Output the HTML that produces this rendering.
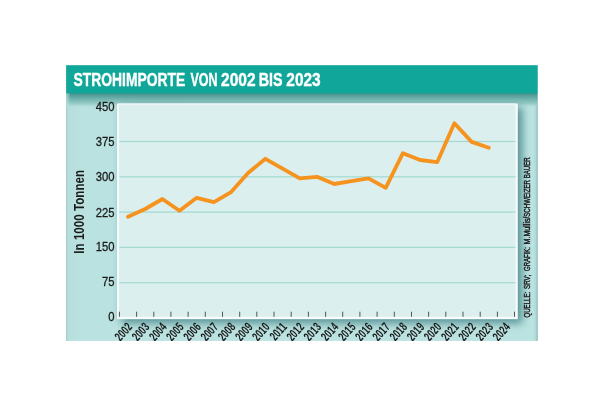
<!DOCTYPE html>
<html><head><meta charset="utf-8"><title>Strohimporte</title>
<style>
html,body{margin:0;padding:0;background:#fff;}
body{width:606px;height:402px;overflow:hidden;font-family:"Liberation Sans",sans-serif;}
svg{display:block;will-change:transform;}
text{font-family:"Liberation Sans",sans-serif;}
</style></head><body>
<svg width="606" height="402" viewBox="0 0 606 402">
<defs>
<linearGradient id="gTitle" x1="0" y1="0" x2="0" y2="1"><stop offset="0" stop-color="#3e8f8c" stop-opacity="1"/><stop offset="0.36" stop-color="#64aaa5" stop-opacity="0.92"/><stop offset="0.75" stop-color="#8fc6c0" stop-opacity="0.8"/><stop offset="1" stop-color="#b0dad6" stop-opacity="0"/></linearGradient>
<linearGradient id="gRight" x1="0" y1="0" x2="1" y2="0"><stop offset="0" stop-color="#6fa9aa" stop-opacity="0.9"/><stop offset="0.5" stop-color="#8fc2c2" stop-opacity="0.45"/><stop offset="1" stop-color="#b7dfdd" stop-opacity="0"/></linearGradient>
<linearGradient id="gBottom" x1="0" y1="0" x2="0" y2="1"><stop offset="0" stop-color="#6fa9aa" stop-opacity="0.9"/><stop offset="0.5" stop-color="#8fc2c2" stop-opacity="0.45"/><stop offset="1" stop-color="#b7dfdd" stop-opacity="0"/></linearGradient>
<linearGradient id="gEdgeR" x1="0" y1="0" x2="1" y2="0"><stop offset="0" stop-color="#8fc0c0" stop-opacity="0"/><stop offset="1" stop-color="#8fc0c0" stop-opacity="0.8"/></linearGradient>
<linearGradient id="gBg" x1="0" y1="0" x2="1" y2="0"><stop offset="0" stop-color="#b5dedc"/><stop offset="0.04" stop-color="#bae2e0"/><stop offset="1" stop-color="#bbe3e1"/></linearGradient>
<filter id="blur" x="-10%" y="-10%" width="120%" height="120%"><feGaussianBlur stdDeviation="4.5"/></filter>
<linearGradient id="gSoftL" x1="0" y1="0" x2="1" y2="0"><stop offset="0" stop-color="#b8e0de" stop-opacity="0.85"/><stop offset="1" stop-color="#b8e0de" stop-opacity="0"/></linearGradient>
<clipPath id="cBox"><rect x="66.2" y="65.2" width="471.5" height="275.7"/></clipPath>
</defs>
<rect x="66.2" y="65.2" width="471.5" height="275.7" fill="url(#gBg)"/>
<g clip-path="url(#cBox)">
<rect x="66.2" y="65" width="1" height="276" fill="#9cc4c4"/>
<rect x="536.7" y="93" width="1" height="248" fill="#86b3b3"/>
<rect x="533" y="93" width="4.5" height="248" fill="url(#gEdgeR)" opacity="0.6"/>
<rect x="66" y="93" width="471.5" height="14.5" fill="url(#gTitle)"/>
<rect x="121.3" y="107" width="401" height="216.3" fill="#569294" filter="url(#blur)"/>
<rect x="66" y="93" width="4.5" height="14" fill="url(#gSoftL)"/>
<rect x="66" y="65" width="472" height="28.3" fill="#10a79a"/>

<rect x="117" y="103.5" width="400.8" height="215.7" fill="#f6fbfb"/>
<rect x="119" y="103.5" width="396.6" height="1.8" fill="#e9f5f4"/>
<rect x="119" y="105.2" width="396.5" height="211.6" fill="#dbefee"/>
<rect x="119.5" y="140.9" width="396" height="1.2" fill="#a2dad1"/>
<rect x="119.5" y="176.2" width="396" height="1.2" fill="#a2dad1"/>
<rect x="119.5" y="211.5" width="396" height="1.2" fill="#a2dad1"/>
<rect x="119.5" y="246.8" width="396" height="1.2" fill="#a2dad1"/>
<rect x="119.5" y="282.1" width="396" height="1.2" fill="#a2dad1"/>
<rect x="118.9" y="311.7" width="1" height="5.1" fill="#555"/>
<rect x="136.1" y="311.7" width="1" height="5.1" fill="#555"/>
<rect x="153.3" y="311.7" width="1" height="5.1" fill="#555"/>
<rect x="170.4" y="311.7" width="1" height="5.1" fill="#555"/>
<rect x="187.6" y="311.7" width="1" height="5.1" fill="#555"/>
<rect x="204.8" y="311.7" width="1" height="5.1" fill="#555"/>
<rect x="222.0" y="311.7" width="1" height="5.1" fill="#555"/>
<rect x="239.2" y="311.7" width="1" height="5.1" fill="#555"/>
<rect x="256.3" y="311.7" width="1" height="5.1" fill="#555"/>
<rect x="273.5" y="311.7" width="1" height="5.1" fill="#555"/>
<rect x="290.7" y="311.7" width="1" height="5.1" fill="#555"/>
<rect x="307.9" y="311.7" width="1" height="5.1" fill="#555"/>
<rect x="325.1" y="311.7" width="1" height="5.1" fill="#555"/>
<rect x="342.2" y="311.7" width="1" height="5.1" fill="#555"/>
<rect x="359.4" y="311.7" width="1" height="5.1" fill="#555"/>
<rect x="376.6" y="311.7" width="1" height="5.1" fill="#555"/>
<rect x="393.8" y="311.7" width="1" height="5.1" fill="#555"/>
<rect x="411.0" y="311.7" width="1" height="5.1" fill="#555"/>
<rect x="428.1" y="311.7" width="1" height="5.1" fill="#555"/>
<rect x="445.3" y="311.7" width="1" height="5.1" fill="#555"/>
<rect x="462.5" y="311.7" width="1" height="5.1" fill="#555"/>
<rect x="479.7" y="311.7" width="1" height="5.1" fill="#555"/>
<rect x="496.9" y="311.7" width="1" height="5.1" fill="#555"/>
<rect x="514.0" y="311.7" width="1" height="5.1" fill="#555"/>
<polyline points="128.0,216.8 145.2,209.0 162.4,199.0 179.5,210.7 196.7,197.8 213.9,202.1 231.1,192.1 248.3,172.8 265.4,158.8 282.6,168.7 299.8,178.4 317.0,176.8 334.2,184.0 351.3,181.2 368.5,178.3 385.7,187.9 402.9,153.2 420.1,160.0 437.2,162.2 454.4,123.2 471.6,141.9 488.8,147.7" fill="none" stroke="#f6921e" stroke-width="3.8" stroke-linejoin="round" stroke-linecap="round"/>
<g font-size="18.4" font-weight="bold" fill="#fff" stroke="#fff" stroke-width="0.4">
<text x="73.6" y="86.3" textLength="111.6" lengthAdjust="spacingAndGlyphs">STROHIMPORTE</text>
<text x="190.4" y="86.3" textLength="27.0" lengthAdjust="spacingAndGlyphs">VON</text>
<text x="221.0" y="86.3" textLength="34.6" lengthAdjust="spacingAndGlyphs">2002</text>
<text x="258.8" y="86.3" textLength="23.8" lengthAdjust="spacingAndGlyphs">BIS</text>
<text x="286.3" y="86.3" textLength="34.4" lengthAdjust="spacingAndGlyphs">2023</text>
</g>
<text x="0" y="0" transform="translate(114.6,111) scale(0.86,1)" font-size="13.1" text-anchor="end" fill="#1a1a1a" stroke="#1a1a1a" stroke-width="0.3">450</text>
<text x="0" y="0" transform="translate(114.6,146) scale(0.86,1)" font-size="13.1" text-anchor="end" fill="#1a1a1a" stroke="#1a1a1a" stroke-width="0.3">375</text>
<text x="0" y="0" transform="translate(114.6,181) scale(0.86,1)" font-size="13.1" text-anchor="end" fill="#1a1a1a" stroke="#1a1a1a" stroke-width="0.3">300</text>
<text x="0" y="0" transform="translate(114.6,217) scale(0.86,1)" font-size="13.1" text-anchor="end" fill="#1a1a1a" stroke="#1a1a1a" stroke-width="0.3">225</text>
<text x="0" y="0" transform="translate(114.6,251) scale(0.86,1)" font-size="13.1" text-anchor="end" fill="#1a1a1a" stroke="#1a1a1a" stroke-width="0.3">150</text>
<text x="0" y="0" transform="translate(114.6,286) scale(0.86,1)" font-size="13.1" text-anchor="end" fill="#1a1a1a" stroke="#1a1a1a" stroke-width="0.3">75</text>
<text x="0" y="0" transform="translate(114.6,321) scale(0.86,1)" font-size="13.1" text-anchor="end" fill="#1a1a1a" stroke="#1a1a1a" stroke-width="0.3">0</text>
<text x="0" y="0" transform="translate(83.8,211.8) rotate(-90) scale(0.83,1)" font-size="14" font-weight="bold" text-anchor="middle" fill="#1a1a1a">In 1000 Tonnen</text>
<text x="0" y="0" transform="translate(133.0,327.6) rotate(-48) scale(0.665,1)" font-size="12.8" font-weight="bold" text-anchor="end" fill="#1a1a1a">2002</text>
<text x="0" y="0" transform="translate(150.2,327.6) rotate(-48) scale(0.665,1)" font-size="12.8" font-weight="bold" text-anchor="end" fill="#1a1a1a">2003</text>
<text x="0" y="0" transform="translate(167.4,327.6) rotate(-48) scale(0.665,1)" font-size="12.8" font-weight="bold" text-anchor="end" fill="#1a1a1a">2004</text>
<text x="0" y="0" transform="translate(184.5,327.6) rotate(-48) scale(0.665,1)" font-size="12.8" font-weight="bold" text-anchor="end" fill="#1a1a1a">2005</text>
<text x="0" y="0" transform="translate(201.7,327.6) rotate(-48) scale(0.665,1)" font-size="12.8" font-weight="bold" text-anchor="end" fill="#1a1a1a">2006</text>
<text x="0" y="0" transform="translate(218.9,327.6) rotate(-48) scale(0.665,1)" font-size="12.8" font-weight="bold" text-anchor="end" fill="#1a1a1a">2007</text>
<text x="0" y="0" transform="translate(236.1,327.6) rotate(-48) scale(0.665,1)" font-size="12.8" font-weight="bold" text-anchor="end" fill="#1a1a1a">2008</text>
<text x="0" y="0" transform="translate(253.3,327.6) rotate(-48) scale(0.665,1)" font-size="12.8" font-weight="bold" text-anchor="end" fill="#1a1a1a">2009</text>
<text x="0" y="0" transform="translate(270.4,327.6) rotate(-48) scale(0.665,1)" font-size="12.8" font-weight="bold" text-anchor="end" fill="#1a1a1a">2010</text>
<text x="0" y="0" transform="translate(287.6,327.6) rotate(-48) scale(0.665,1)" font-size="12.8" font-weight="bold" text-anchor="end" fill="#1a1a1a">2011</text>
<text x="0" y="0" transform="translate(304.8,327.6) rotate(-48) scale(0.665,1)" font-size="12.8" font-weight="bold" text-anchor="end" fill="#1a1a1a">2012</text>
<text x="0" y="0" transform="translate(322.0,327.6) rotate(-48) scale(0.665,1)" font-size="12.8" font-weight="bold" text-anchor="end" fill="#1a1a1a">2013</text>
<text x="0" y="0" transform="translate(339.2,327.6) rotate(-48) scale(0.665,1)" font-size="12.8" font-weight="bold" text-anchor="end" fill="#1a1a1a">2014</text>
<text x="0" y="0" transform="translate(356.3,327.6) rotate(-48) scale(0.665,1)" font-size="12.8" font-weight="bold" text-anchor="end" fill="#1a1a1a">2015</text>
<text x="0" y="0" transform="translate(373.5,327.6) rotate(-48) scale(0.665,1)" font-size="12.8" font-weight="bold" text-anchor="end" fill="#1a1a1a">2016</text>
<text x="0" y="0" transform="translate(390.7,327.6) rotate(-48) scale(0.665,1)" font-size="12.8" font-weight="bold" text-anchor="end" fill="#1a1a1a">2017</text>
<text x="0" y="0" transform="translate(407.9,327.6) rotate(-48) scale(0.665,1)" font-size="12.8" font-weight="bold" text-anchor="end" fill="#1a1a1a">2018</text>
<text x="0" y="0" transform="translate(425.1,327.6) rotate(-48) scale(0.665,1)" font-size="12.8" font-weight="bold" text-anchor="end" fill="#1a1a1a">2019</text>
<text x="0" y="0" transform="translate(442.2,327.6) rotate(-48) scale(0.665,1)" font-size="12.8" font-weight="bold" text-anchor="end" fill="#1a1a1a">2020</text>
<text x="0" y="0" transform="translate(459.4,327.6) rotate(-48) scale(0.665,1)" font-size="12.8" font-weight="bold" text-anchor="end" fill="#1a1a1a">2021</text>
<text x="0" y="0" transform="translate(476.6,327.6) rotate(-48) scale(0.665,1)" font-size="12.8" font-weight="bold" text-anchor="end" fill="#1a1a1a">2022</text>
<text x="0" y="0" transform="translate(493.8,327.6) rotate(-48) scale(0.665,1)" font-size="12.8" font-weight="bold" text-anchor="end" fill="#1a1a1a">2023</text>
<text x="0" y="0" transform="translate(511.0,327.6) rotate(-48) scale(0.665,1)" font-size="12.8" font-weight="bold" text-anchor="end" fill="#1a1a1a">2024</text>
<g transform="translate(530.2,317.6) rotate(-90)" font-size="9.4" fill="#1a1a1a" stroke="#1a1a1a" stroke-width="0.45">
<text x="0" y="0" textLength="25.9" lengthAdjust="spacingAndGlyphs">QUELLE:</text>
<text x="28.6" y="0" textLength="14.2" lengthAdjust="spacingAndGlyphs">SRV;</text>
<text x="46.6" y="0" textLength="24.0" lengthAdjust="spacingAndGlyphs">GRAFIK:</text>
<text x="73.1" y="0" textLength="26.1" lengthAdjust="spacingAndGlyphs">M.Mullis</text>
<text x="99.2" y="0" textLength="61.2" lengthAdjust="spacingAndGlyphs">/SCHWEIZER BAUER</text>
</g>
</g></svg></body></html>
